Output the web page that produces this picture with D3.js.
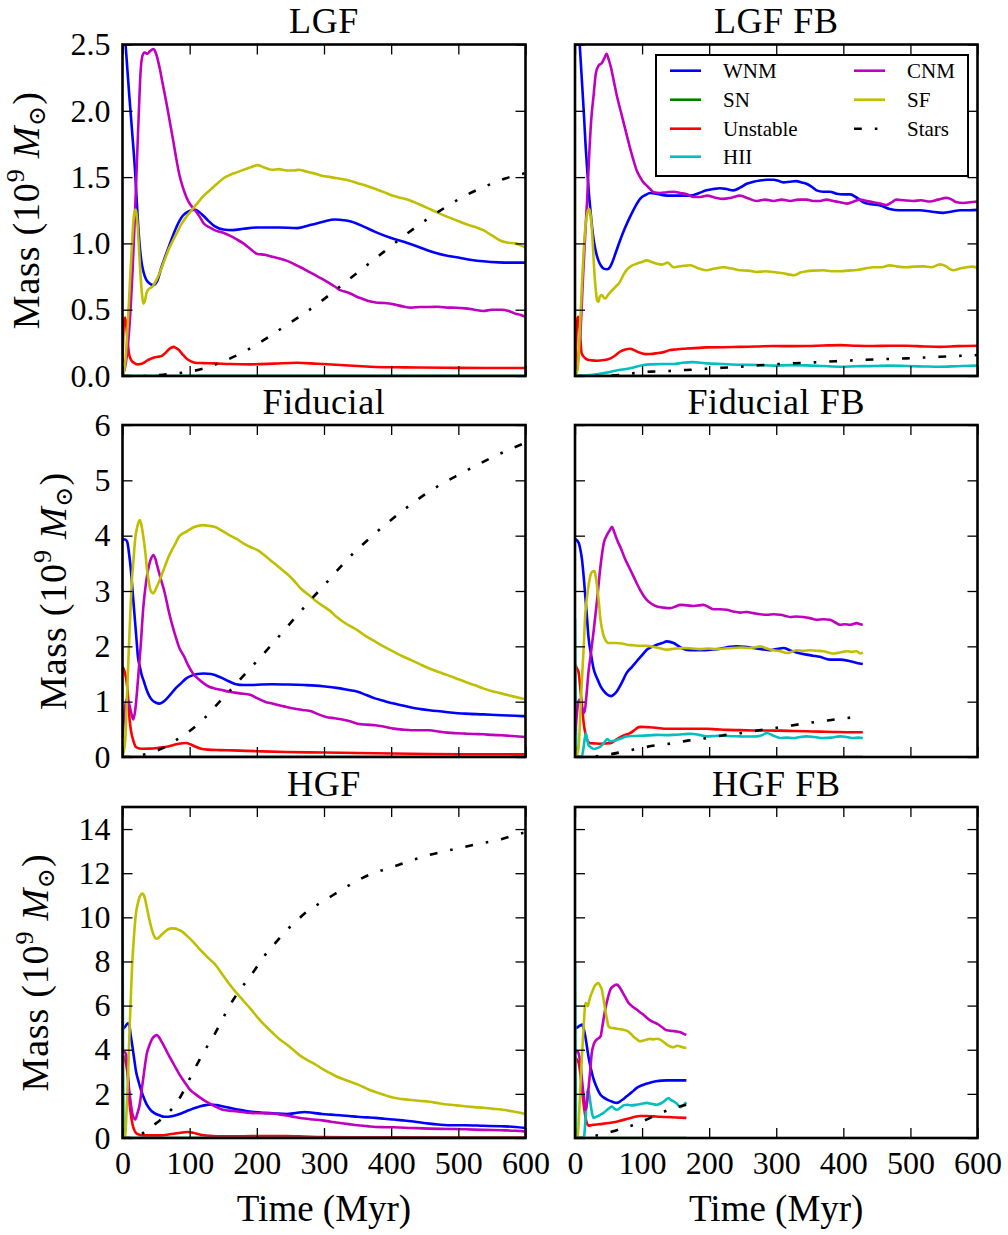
<!DOCTYPE html>
<html>
<head>
<meta charset="utf-8">
<script src="https://cdn.jsdelivr.net/npm/d3@7"></script>
<style>
  html, body { margin: 0; padding: 0; background: #ffffff; }
  svg { display: block; }
</style>
</head>
<body>
<svg id="chart" width="1008" height="1235"></svg>
<script>
// ---- Gas-phase mass histories, [time (Myr), mass (1e9 Msun)] ----

// LGF
const lgfWNM = [[0,2.85],[5,2.47],[10,2.12],[15,1.8],[19,1.52],[22,1.25],[25,1.02],[28,0.87],[31,0.79],[35,0.73],[40,0.7],[46,0.685],[52,0.72],[58,0.82],[65,0.92],[73,1.03],[80,1.12],[90,1.21],[100,1.245],[108,1.254],[118,1.22],[128,1.17],[137,1.13],[150,1.105],[164,1.1],[180,1.11],[201,1.12],[233,1.12],[260,1.115],[270,1.125],[281,1.14],[300,1.165],[316,1.18],[330,1.175],[340,1.165],[360,1.125],[377,1.085],[400,1.04],[420,1.01],[440,0.975],[457,0.943],[480,0.91],[500,0.893],[520,0.875],[537,0.865],[560,0.857],[580,0.855],[600,0.855]];
const lgfSN = [[0,0],[600,0]];
const lgfUnstable = [[0,0.1],[2,0.4],[4,0.44],[6,0.36],[8,0.24],[10,0.16],[13,0.12],[17,0.1],[22,0.088],[27,0.09],[32,0.1],[36,0.115],[42,0.13],[47,0.14],[53,0.145],[58,0.15],[63,0.17],[68,0.196],[73,0.215],[76,0.22],[80,0.21],[84,0.196],[90,0.16],[95,0.133],[102,0.11],[108,0.1],[120,0.097],[137,0.095],[160,0.09],[191,0.088],[225,0.093],[260,0.1],[290,0.092],[324,0.083],[350,0.075],[377,0.068],[420,0.065],[480,0.062],[540,0.06],[600,0.06]];
const lgfHII = [[0,0],[600,0]];
const lgfCNM = [[0,0],[5,0.1],[10,0.35],[15,0.8],[18,1.15],[21,1.55],[24,1.95],[27,2.3],[30,2.42],[33,2.44],[37,2.43],[41,2.45],[46,2.465],[50,2.43],[55,2.33],[60,2.2],[65,2.07],[70,1.93],[75,1.79],[80,1.64],[85,1.51],[90,1.42],[95,1.35],[100,1.3],[108,1.25],[115,1.2],[121,1.15],[130,1.12],[137,1.1],[150,1.08],[159,1.06],[170,1.03],[180,1.0],[190,0.96],[201,0.92],[212,0.915],[223,0.9],[235,0.885],[244,0.87],[255,0.845],[265,0.82],[276,0.79],[287,0.76],[298,0.73],[308,0.7],[316,0.675],[324,0.647],[332,0.635],[340,0.62],[348,0.6],[356,0.584],[366,0.565],[377,0.554],[390,0.55],[404,0.54],[417,0.525],[430,0.516],[444,0.52],[457,0.52],[470,0.522],[484,0.516],[497,0.515],[510,0.51],[524,0.5],[537,0.49],[550,0.5],[564,0.5],[575,0.49],[585,0.47],[593,0.46],[600,0.446]];
const lgfSF = [[0,0],[4,0.1],[8,0.4],[11,0.7],[14,0.98],[16,1.15],[18,1.24],[19.5,1.255],[21,1.22],[23,1.1],[25,0.92],[27,0.75],[29,0.62],[31,0.545],[33,0.56],[36,0.63],[40,0.66],[44,0.67],[48,0.7],[52,0.74],[57,0.8],[63,0.88],[70,0.97],[79,1.06],[87,1.14],[95,1.2],[103,1.25],[111,1.3],[121,1.36],[132,1.41],[143,1.46],[153,1.5],[164,1.525],[175,1.545],[183,1.56],[191,1.575],[201,1.59],[210,1.575],[223,1.555],[233,1.56],[244,1.55],[255,1.55],[263,1.555],[271,1.545],[284,1.53],[297,1.51],[310,1.5],[324,1.487],[337,1.475],[350,1.454],[363,1.435],[377,1.41],[390,1.385],[404,1.357],[417,1.34],[430,1.32],[444,1.29],[457,1.26],[470,1.23],[484,1.2],[497,1.175],[510,1.148],[524,1.125],[537,1.1],[550,1.06],[564,1.018],[575,1.005],[585,1.0],[593,0.985],[600,0.968]];
const lgfStars = [[0,0],[30,0],[60,0.01],[90,0.025],[120,0.055],[150,0.11],[180,0.18],[210,0.27],[240,0.37],[270,0.47],[300,0.58],[330,0.7],[360,0.82],[390,0.94],[420,1.06],[450,1.17],[480,1.27],[510,1.36],[540,1.43],[570,1.49],[600,1.53]];

// LGF FB
const lgfFbWNM = [[0,2.95],[4,2.7],[7,2.5],[10,2.25],[13,2.0],[16,1.72],[18,1.57],[21,1.36],[23,1.25],[26,1.1],[28,1.02],[31,0.94],[35,0.87],[39,0.83],[43,0.81],[48,0.805],[52,0.82],[55,0.85],[60,0.92],[67,1.02],[74,1.11],[82,1.2],[90,1.28],[97,1.336],[105,1.365],[112,1.38],[125,1.37],[137,1.36],[155,1.36],[172,1.36],[185,1.38],[196,1.4],[206,1.41],[216,1.416],[226,1.41],[236,1.4],[246,1.42],[256,1.45],[266,1.465],[276,1.474],[286,1.48],[296,1.48],[304,1.47],[311,1.46],[320,1.465],[330,1.47],[338,1.46],[345,1.45],[352,1.43],[360,1.4],[370,1.39],[380,1.39],[390,1.375],[400,1.37],[410,1.37],[420,1.345],[430,1.31],[442,1.295],[455,1.286],[469,1.26],[484,1.25],[500,1.25],[514,1.25],[530,1.24],[549,1.23],[562,1.24],[574,1.25],[588,1.25],[600,1.253]];
const lgfFbSN = [[0,0],[600,0]];
const lgfFbUnstable = [[0,0],[2,0.3],[4,0.44],[5,0.446],[7,0.35],[10,0.17],[14,0.14],[18,0.125],[25,0.118],[33,0.115],[43,0.12],[53,0.133],[60,0.155],[67,0.183],[75,0.2],[82,0.206],[90,0.19],[97,0.175],[105,0.165],[112,0.166],[122,0.172],[132,0.18],[142,0.196],[150,0.2],[160,0.205],[172,0.208],[185,0.212],[196,0.216],[220,0.217],[246,0.22],[270,0.222],[296,0.226],[320,0.225],[345,0.226],[370,0.23],[395,0.233],[420,0.228],[445,0.226],[470,0.228],[494,0.228],[520,0.223],[544,0.22],[570,0.225],[600,0.228]];
const lgfFbHII = [[0,0],[23,0.008],[35,0.015],[52,0.03],[65,0.045],[82,0.058],[102,0.083],[115,0.088],[130,0.09],[147,0.09],[160,0.1],[176,0.105],[187,0.1],[196,0.095],[220,0.09],[246,0.085],[272,0.083],[296,0.078],[320,0.082],[345,0.08],[370,0.075],[395,0.07],[420,0.074],[445,0.075],[470,0.078],[494,0.075],[520,0.072],[544,0.07],[570,0.074],[600,0.078]];
const lgfFbCNM = [[0,0],[4,0.1],[8,0.32],[12,0.75],[15,1.05],[18,1.32],[21,1.65],[24,1.92],[28,2.13],[31,2.28],[35,2.34],[40,2.36],[44,2.4],[47,2.43],[50,2.39],[53,2.34],[58,2.22],[63,2.1],[68,2.0],[73,1.9],[78,1.8],[82,1.72],[87,1.63],[92,1.55],[97,1.5],[102,1.46],[107,1.436],[112,1.41],[117,1.386],[127,1.38],[137,1.386],[147,1.39],[157,1.38],[167,1.37],[177,1.35],[187,1.35],[197,1.36],[209,1.345],[221,1.336],[233,1.345],[246,1.36],[258,1.34],[271,1.32],[283,1.33],[296,1.32],[308,1.33],[321,1.32],[333,1.33],[345,1.33],[355,1.32],[365,1.32],[375,1.33],[385,1.32],[395,1.31],[405,1.3],[415,1.315],[425,1.33],[435,1.32],[445,1.31],[455,1.3],[464,1.29],[472,1.31],[479,1.33],[490,1.325],[504,1.32],[516,1.325],[529,1.316],[541,1.33],[554,1.343],[562,1.33],[569,1.31],[579,1.305],[589,1.31],[600,1.316]];
const lgfFbSF = [[0,0],[4,0.05],[7,0.32],[10,0.65],[13,0.95],[16,1.15],[18,1.22],[21,1.26],[23,1.22],[25,1.12],[27,0.95],[29,0.77],[31,0.65],[33,0.57],[35,0.56],[37,0.6],[40,0.61],[43,0.59],[45,0.584],[49,0.61],[53,0.634],[60,0.67],[67,0.71],[72,0.76],[77,0.8],[84,0.83],[92,0.847],[100,0.86],[107,0.872],[114,0.86],[122,0.847],[130,0.84],[138,0.855],[147,0.82],[160,0.83],[172,0.835],[185,0.81],[196,0.797],[208,0.81],[221,0.82],[234,0.81],[246,0.797],[258,0.795],[271,0.784],[284,0.79],[296,0.784],[310,0.775],[326,0.76],[336,0.78],[345,0.79],[357,0.795],[370,0.797],[382,0.79],[395,0.79],[407,0.795],[420,0.8],[432,0.81],[445,0.82],[457,0.82],[469,0.834],[481,0.825],[494,0.82],[506,0.825],[519,0.827],[531,0.82],[544,0.842],[552,0.83],[558,0.81],[564,0.797],[574,0.81],[584,0.82],[592,0.825],[600,0.815]];
const lgfFbStars = [[0,0],[40,0],[60,0.005],[80,0.015],[100,0.03],[120,0.034],[140,0.038],[165,0.045],[191,0.053],[220,0.062],[246,0.07],[270,0.079],[296,0.088],[320,0.094],[345,0.1],[370,0.107],[395,0.113],[420,0.119],[445,0.125],[470,0.129],[494,0.133],[520,0.139],[544,0.145],[570,0.151],[600,0.158]];

// Fiducial
const fidWNM = [[0,3.93],[4,3.93],[7,3.89],[10,3.65],[12,3.44],[15,3.0],[18,2.55],[21,2.1],[23,1.81],[26,1.62],[28,1.51],[32,1.36],[36,1.21],[40,1.1],[44,1.03],[50,0.98],[55,0.965],[60,0.99],[66,1.055],[72,1.14],[79,1.24],[87,1.33],[95,1.42],[103,1.47],[111,1.5],[121,1.51],[132,1.5],[140,1.47],[148,1.43],[158,1.37],[169,1.315],[180,1.3],[191,1.3],[207,1.31],[223,1.315],[247,1.31],[271,1.3],[298,1.28],[324,1.24],[337,1.21],[350,1.18],[363,1.12],[377,1.055],[390,1.01],[404,0.965],[417,0.93],[430,0.893],[444,0.865],[457,0.844],[484,0.81],[510,0.784],[537,0.77],[564,0.754],[585,0.745],[600,0.736]];
const fidSN = [[0,0],[600,0]];
const fidUnstable = [[0,1.63],[3,1.55],[7,1.27],[9,0.95],[10.7,0.66],[13,0.45],[16,0.3],[20,0.18],[25,0.155],[31,0.15],[40,0.152],[52,0.163],[60,0.175],[68,0.19],[76,0.215],[84,0.24],[95,0.253],[101,0.23],[108,0.19],[117,0.15],[127,0.133],[145,0.125],[164,0.12],[200,0.105],[244,0.09],[300,0.08],[350,0.072],[400,0.063],[457,0.054],[520,0.05],[600,0.048]];
const fidHII = [[0,0],[600,0]];
const fidCNM = [[0,0.35],[3,0.8],[6,1.05],[9,1.0],[12,0.85],[16,0.68],[19,0.85],[23,1.39],[27,2.0],[31,2.71],[35,3.15],[39,3.44],[43,3.6],[46,3.65],[49,3.58],[52,3.44],[57,3.22],[63,2.96],[68,2.68],[73.5,2.41],[79,2.18],[84,1.99],[92,1.81],[98,1.65],[105,1.51],[113,1.41],[121,1.33],[129,1.27],[137,1.24],[148,1.21],[159,1.18],[175,1.15],[191,1.12],[201,1.06],[212,1.0],[223,0.965],[233,0.935],[244,0.905],[255,0.875],[268,0.85],[281,0.826],[292,0.77],[303,0.724],[316,0.7],[329,0.675],[340,0.64],[350,0.6],[363,0.585],[377,0.573],[390,0.545],[404,0.513],[417,0.495],[430,0.483],[444,0.483],[457,0.483],[470,0.46],[484,0.44],[497,0.43],[510,0.422],[524,0.415],[537,0.41],[550,0.4],[564,0.392],[580,0.38],[600,0.362]];
const fidSF = [[0,0],[4,0.3],[7,1.2],[9.6,2.0],[12,2.7],[14,3.2],[16,3.5],[19,3.95],[22,4.16],[25.6,4.28],[28,4.2],[31,3.98],[34,3.7],[36,3.44],[39,3.18],[41.5,3.02],[44,2.97],[46,2.96],[49,3.02],[52,3.1],[57,3.25],[63,3.44],[68,3.6],[73.5,3.74],[79,3.86],[84,3.98],[90,4.04],[95,4.07],[101,4.12],[108,4.16],[119,4.19],[128,4.18],[137,4.16],[148,4.09],[159,4.01],[170,3.94],[180,3.86],[191,3.79],[201,3.74],[212,3.64],[223,3.53],[233,3.43],[244,3.32],[255,3.19],[265,3.05],[276,2.94],[287,2.83],[297,2.74],[308,2.65],[318,2.54],[329,2.44],[340,2.36],[350,2.29],[363,2.18],[377,2.08],[390,1.99],[404,1.9],[417,1.82],[430,1.75],[444,1.67],[457,1.6],[470,1.54],[484,1.48],[497,1.42],[510,1.36],[524,1.3],[537,1.24],[550,1.19],[564,1.15],[580,1.1],[600,1.04]];
const fidStars = [[0,0],[20,0],[31,0.04],[45,0.09],[60,0.16],[79,0.3],[100,0.47],[121,0.69],[137,0.9],[160,1.2],[190,1.6],[220,2.0],[250,2.42],[281,2.85],[300,3.1],[337,3.6],[377,4.05],[417,4.45],[457,4.8],[505,5.13],[553,5.43],[600,5.68]];

// Fiducial FB
const fidFbWNM = [[0,3.94],[5.5,3.87],[8,3.75],[10.4,3.57],[13,3.25],[15.4,2.9],[18,2.5],[20,2.18],[24,1.85],[28,1.58],[33,1.42],[38,1.28],[43,1.19],[48,1.13],[54,1.1],[58,1.13],[62.5,1.19],[70,1.35],[77,1.52],[85,1.63],[92,1.73],[100,1.84],[107,1.94],[115,1.99],[122,2.03],[130,2.06],[137,2.09],[147,2.06],[155,2.0],[162,1.95],[172,1.93],[182,1.93],[192,1.93],[202,1.94],[212,1.95],[221,1.97],[231,1.99],[241,2.0],[253,1.99],[266,1.97],[278,1.95],[291,1.93],[300,1.95],[311,1.97],[320,1.93],[330,1.89],[345,1.85],[355,1.83],[365,1.81],[380,1.76],[395,1.76],[410,1.73],[420,1.7],[429,1.68]];
const fidFbSN = [[0,0],[429,0]];
const fidFbUnstable = [[0,1.67],[3,1.6],[5.5,1.52],[9,1.1],[11,0.85],[13,0.61],[15.5,0.42],[18,0.31],[23,0.25],[30,0.245],[38,0.24],[45,0.245],[52.6,0.25],[60,0.3],[67.5,0.36],[75,0.4],[82,0.43],[88,0.48],[95,0.54],[100,0.545],[107,0.54],[120,0.53],[137,0.51],[155,0.51],[172,0.51],[196,0.51],[211,0.5],[226,0.49],[246,0.485],[266,0.48],[286,0.478],[306,0.476],[325,0.47],[345,0.464],[365,0.458],[385,0.452],[405,0.448],[429,0.446]];
const fidFbHII = [[0,2.5],[1,1.0],[2,0.2],[4,0],[10,0],[13,0.19],[16,0.43],[18,0.33],[20,0.22],[24,0.17],[28,0.145],[33,0.16],[38,0.19],[43,0.25],[48,0.325],[52.6,0.28],[57,0.29],[62.5,0.31],[70,0.34],[77,0.373],[87,0.38],[97,0.385],[110,0.39],[122,0.4],[135,0.395],[147,0.4],[160,0.41],[172,0.42],[185,0.4],[196.5,0.373],[209,0.38],[221,0.385],[234,0.375],[246,0.373],[258,0.37],[271,0.373],[280,0.4],[286,0.434],[295,0.39],[306,0.343],[315,0.35],[325.5,0.343],[335,0.36],[345,0.373],[357,0.36],[370,0.343],[382,0.35],[395,0.373],[405,0.36],[415,0.343],[422,0.35],[429,0.343]];
const fidFbCNM = [[0,0.4],[3,0.8],[5,1.0],[7,1.04],[10,0.92],[14,0.8],[17,1.1],[20,1.52],[24,1.9],[28,2.3],[33,2.85],[38,3.45],[43,3.87],[48,4.02],[52,4.1],[55,4.16],[58,4.08],[62.5,3.93],[68,3.78],[75,3.57],[81,3.42],[87,3.27],[92,3.14],[97,3.02],[102,2.92],[107,2.84],[114,2.77],[122,2.72],[132,2.7],[142,2.69],[150,2.72],[157,2.75],[167,2.74],[177,2.73],[185,2.74],[191.5,2.75],[199,2.71],[206,2.67],[216,2.67],[226,2.66],[236,2.63],[246,2.61],[256,2.62],[266,2.6],[276,2.58],[286,2.57],[296,2.58],[306,2.57],[314,2.55],[321,2.53],[330,2.54],[340,2.53],[350,2.51],[360,2.48],[370,2.49],[380,2.48],[388,2.43],[395,2.39],[402,2.4],[410,2.39],[420,2.42],[425,2.4],[429,2.39]];
const fidFbSF = [[0,0],[3,0.05],[5.5,0.19],[8,0.8],[10.4,1.4],[13,2.0],[15.4,2.6],[18,2.9],[20,3.08],[23,3.28],[25,3.34],[29,3.36],[31,3.25],[33,3.08],[35.5,2.8],[38,2.48],[40.5,2.3],[43,2.18],[46,2.1],[50,2.06],[56,2.06],[62.5,2.06],[70,2.05],[77,2.03],[87,2.02],[97,2.01],[105,2.01],[112,2.0],[125,1.97],[137,1.94],[150,1.96],[162,1.97],[175,1.96],[187,1.95],[199,1.96],[211,1.95],[223,1.96],[236,1.97],[248,1.98],[261,1.97],[268,1.98],[276,2.0],[286,1.96],[296,1.93],[306,1.91],[316,1.88],[323,1.9],[330,1.93],[340,1.92],[350,1.93],[360,1.92],[370,1.91],[378,1.89],[385,1.87],[395,1.89],[405,1.91],[412,1.9],[420,1.91],[425,1.87],[429,1.89]];
const fidFbStars = [[0,0],[23,0],[35,0.02],[48,0.04],[70,0.09],[97,0.16],[120,0.21],[147,0.25],[170,0.3],[196.5,0.343],[220,0.39],[246,0.43],[270,0.475],[296,0.52],[320,0.565],[345,0.61],[370,0.65],[395,0.69],[415,0.72],[429,0.75]];

// HGF
const hgfWNM = [[0,4.93],[4,5.05],[8,5.2],[10,5.15],[12,4.7],[15,4.1],[18,3.45],[20,3.04],[24,2.55],[28,2.13],[32,1.8],[36,1.52],[41,1.3],[47,1.14],[55,1.03],[63,0.96],[73.5,0.99],[84,1.08],[95,1.21],[105,1.33],[116,1.44],[124,1.49],[132,1.52],[140,1.49],[148,1.44],[164,1.34],[180,1.25],[196,1.18],[212,1.14],[228,1.11],[244,1.09],[258,1.13],[271,1.18],[284,1.14],[297,1.09],[310,1.06],[324,1.03],[337,1.0],[350,0.96],[364,0.935],[377,0.91],[390,0.87],[404,0.835],[417,0.8],[430,0.76],[444,0.7],[457,0.65],[470,0.61],[484,0.58],[510,0.58],[537,0.555],[564,0.53],[585,0.5],[600,0.455]];
const hgfSN = [[0,0],[600,0]];
const hgfUnstable = [[0,3.8],[3,3.6],[7,3.04],[9,2.3],[10.7,1.52],[13,0.95],[15,0.61],[17,0.4],[20,0.23],[25,0.15],[31,0.12],[45,0.12],[57.5,0.12],[70,0.17],[84,0.23],[92,0.26],[97.5,0.27],[105,0.24],[116,0.15],[130,0.1],[148,0.076],[180,0.08],[210,0.09],[244,0.09],[270,0.07],[297,0.045],[350,0.035],[404,0.03],[500,0.025],[600,0.02]];
const hgfHII = [[0,10.0],[0.8,4],[1.6,0.5],[3,0],[600,0]];
const hgfCNM = [[0,3.87],[3,3.9],[5.3,3.8],[7.5,3.1],[9.6,2.28],[12,1.65],[15,1.06],[17,0.9],[19,0.835],[22,1.1],[25.6,1.52],[28,2.05],[31,2.73],[33.5,3.3],[36,3.8],[40,4.2],[44,4.48],[47,4.6],[51,4.66],[54,4.58],[57.5,4.4],[63,4.1],[68,3.8],[73.5,3.5],[79,3.19],[84,2.92],[89.5,2.66],[95,2.42],[100,2.2],[108,2.0],[116,1.82],[124,1.66],[132,1.52],[140,1.4],[148,1.29],[159,1.24],[169,1.21],[180,1.17],[191,1.14],[207,1.12],[223,1.11],[233,1.07],[244,1.02],[257,0.95],[271,0.88],[284,0.84],[297,0.8],[310,0.74],[324,0.68],[337,0.63],[350,0.58],[364,0.54],[377,0.5],[390,0.49],[404,0.486],[430,0.455],[457,0.425],[484,0.41],[510,0.395],[537,0.37],[564,0.35],[585,0.33],[600,0.3]];
const hgfSF = [[0,0],[4,0.1],[6,1.2],[8.5,3.04],[11,5.3],[14,7.6],[17,9.1],[20,10.17],[23,10.65],[25.6,10.93],[30,11.08],[33,10.9],[36,10.48],[40,9.9],[44,9.41],[48,9.1],[51,9.03],[54,9.08],[57.5,9.19],[63,9.35],[68,9.46],[73.5,9.5],[79,9.49],[84,9.43],[89.5,9.34],[97,9.13],[105.5,8.88],[113,8.62],[121.5,8.35],[129,8.12],[137,7.9],[148,7.44],[159,6.98],[169,6.6],[180,6.22],[191,5.84],[201,5.47],[212,5.1],[223,4.78],[233,4.5],[244,4.25],[255,3.98],[265,3.72],[276,3.52],[287,3.34],[297,3.14],[308,2.96],[318,2.8],[329,2.66],[340,2.54],[350,2.43],[358,2.32],[366.5,2.2],[377,2.08],[388,1.97],[396,1.89],[404,1.82],[417,1.76],[430,1.72],[444,1.68],[457,1.64],[470,1.58],[484,1.52],[497,1.48],[510,1.44],[524,1.4],[537,1.37],[550,1.33],[564,1.29],[580,1.21],[592,1.14],[600,1.09]];
const hgfStars = [[0,0],[20,0],[25,0.1],[31,0.23],[39,0.4],[47,0.6],[55,0.78],[63,0.99],[73,1.3],[84,1.75],[97,2.5],[111,3.34],[124,4.05],[137,4.7],[150,5.45],[164,6.22],[177,6.8],[191,7.36],[201,7.8],[212,8.28],[228,8.85],[244,9.41],[258,9.8],[271,10.17],[284,10.45],[297,10.7],[313,11.0],[329,11.3],[345,11.58],[361,11.84],[383,12.1],[404,12.3],[430,12.58],[457,12.83],[484,13.02],[510,13.2],[537,13.37],[564,13.54],[585,13.74],[600,13.85]];

// HGF FB
const hgfFbWNM = [[0,4.98],[3,5.0],[5.5,5.06],[8,5.1],[10.4,5.14],[13,4.95],[15.4,4.6],[18,4.1],[20,3.7],[24,3.1],[28,2.64],[33,2.25],[38,1.96],[43,1.83],[48,1.74],[55,1.65],[62.5,1.59],[70,1.72],[77,1.89],[85,2.08],[92,2.27],[99,2.38],[106,2.46],[113,2.52],[121,2.57],[129,2.6],[137,2.61],[150,2.61],[166,2.61]];
const hgfFbSN = [[0,0],[166,0]];
const hgfFbUnstable = [[0,3.7],[3,3.55],[5.5,3.4],[8,2.9],[10.4,2.19],[13,1.5],[15.4,0.98],[18,0.65],[20,0.56],[24,0.58],[28,0.6],[35,0.62],[43,0.65],[50,0.68],[57.5,0.71],[67,0.78],[77,0.86],[87,0.94],[97,1.0],[107,1.0],[117,0.98],[127,0.96],[137,0.95],[150,0.93],[166,0.91]];
const hgfFbHII = [[0,8.0],[0.8,3],[1.6,0.5],[3,0],[13,0],[16,1.0],[19,2.19],[21,2.0],[23,1.59],[25.5,1.1],[28,0.91],[33,0.98],[38,1.06],[43,1.15],[48,1.28],[52,1.38],[55,1.43],[59,1.32],[62.5,1.28],[68,1.38],[72,1.48],[77,1.51],[84,1.48],[92,1.51],[99,1.55],[107,1.59],[114,1.55],[122,1.51],[130,1.6],[135,1.72],[139.5,1.81],[143,1.72],[147,1.66],[152,1.55],[157,1.4],[162,1.5],[166,1.62]];
const hgfFbCNM = [[0,3.85],[2,3.9],[4,3.93],[6,3.75],[8,3.4],[10.5,2.6],[13,1.89],[16,1.28],[18,1.6],[20,2.19],[22.5,3.0],[25,3.85],[27.5,4.2],[30,4.38],[34,4.5],[38,4.6],[41,5.1],[45,5.82],[49,6.35],[52.6,6.72],[57,6.88],[62.5,6.95],[66,6.85],[70,6.65],[75,6.38],[80,6.12],[86,5.95],[92,5.82],[97,5.7],[102,5.59],[107,5.45],[112,5.33],[117,5.25],[122,5.18],[130,5.02],[137,4.88],[145,4.85],[152,4.83],[158,4.78],[162,4.72],[166,4.68]];
const hgfFbSF = [[0,0],[4,0.08],[6,1.0],[8,2.34],[10,3.5],[12,4.6],[14,5.6],[15.4,6.12],[17,6.1],[19,5.97],[21,6.2],[23,6.42],[26,6.65],[29,6.87],[32,6.98],[35,7.02],[37.5,6.9],[40,6.72],[42.5,6.3],[45,5.82],[47.5,5.4],[50,5.06],[53,5.0],[57.5,4.98],[65,4.94],[72.5,4.9],[77,4.86],[82,4.76],[87,4.6],[92,4.48],[97,4.38],[102,4.42],[107,4.46],[112,4.49],[117,4.47],[122,4.5],[127,4.46],[132,4.35],[137,4.23],[142,4.15],[147,4.11],[152,4.18],[157,4.15],[162,4.1],[166,4.08]];
const hgfFbStars = [[0,0],[20,0],[28,0.08],[38,0.15],[48,0.23],[60,0.33],[72.5,0.45],[85,0.57],[97,0.71],[110,0.88],[122,1.06],[135,1.22],[147,1.36],[157,1.44],[166,1.51]];

// Axis ticks per row
const xTicks = [0, 100, 200, 300, 400, 500, 600];
const yTicksTop = [0, 0.5, 1.0, 1.5, 2.0, 2.5];
const yTicksMid = [0, 1, 2, 3, 4, 5, 6];
const yTicksBot = [0, 2, 4, 6, 8, 10, 12, 14];

// Phases in plotting order
const phaseNames = ["WNM", "SN", "Unstable", "HII", "CNM", "SF", "Stars"];
const phaseColors = ["#0000ff", "#008000", "#ff0000", "#00bfbf", "#bf00bf", "#bfbf00", "#000000"];

const panels = [
  { title: "LGF",         row: 0, col: 0, series: [lgfWNM, lgfSN, lgfUnstable, lgfHII, lgfCNM, lgfSF, lgfStars] },
  { title: "LGF FB",      row: 0, col: 1, series: [lgfFbWNM, lgfFbSN, lgfFbUnstable, lgfFbHII, lgfFbCNM, lgfFbSF, lgfFbStars] },
  { title: "Fiducial",    row: 1, col: 0, series: [fidWNM, fidSN, fidUnstable, fidHII, fidCNM, fidSF, fidStars] },
  { title: "Fiducial FB", row: 1, col: 1, series: [fidFbWNM, fidFbSN, fidFbUnstable, fidFbHII, fidFbCNM, fidFbSF, fidFbStars] },
  { title: "HGF",         row: 2, col: 0, series: [hgfWNM, hgfSN, hgfUnstable, hgfHII, hgfCNM, hgfSF, hgfStars] },
  { title: "HGF FB",      row: 2, col: 1, series: [hgfFbWNM, hgfFbSN, hgfFbUnstable, hgfFbHII, hgfFbCNM, hgfFbSF, hgfFbStars] }
];

// ---- layout ----
const FONT = "'Liberation Serif', 'DejaVu Serif', serif";
const colBox = [{ x0: 122.5, x1: 525.5 }, { x0: 575, x1: 977.5 }];
const rowBox = [
  { y0: 44.5, y1: 376, max: 2.5, ticks: yTicksTop, fmt: d3.format(".1f"), labelX: 39 },
  { y0: 425,  y1: 757, max: 6,   ticks: yTicksMid, fmt: d3.format("d"),   labelX: 66 },
  { y0: 807,  y1: 1138, max: 15, ticks: yTicksBot, fmt: d3.format("d"),   labelX: 48 }
];
const LW = 2.6;
const STARS_DASH = "7.8 13 2.6 13";
const TICK = 10;

const svg = d3.select("#chart");
svg.append("rect").attr("width", 1008).attr("height", 1235).attr("fill", "#fff");

panels.forEach((p, i) => {
  const c = colBox[p.col], r = rowBox[p.row];
  const x = d3.scaleLinear().domain([0, 600]).range([c.x0, c.x1]);
  const y = d3.scaleLinear().domain([0, r.max]).range([r.y1, r.y0]);

  const g = svg.append("g");
  const clipId = "clip" + i;
  g.append("clipPath").attr("id", clipId)
    .append("rect").attr("x", c.x0).attr("y", r.y0)
    .attr("width", c.x1 - c.x0).attr("height", r.y1 - r.y0);

  const line = d3.line().x(d => x(d[0])).y(d => y(d[1])).curve(d3.curveMonotoneX);
  const lines = g.append("g").attr("clip-path", `url(#${clipId})`);
  p.series.forEach((s, k) => {
    lines.append("path")
      .attr("d", line(s))
      .attr("fill", "none")
      .attr("stroke", phaseColors[k])
      .attr("stroke-width", LW)
      .attr("stroke-linejoin", "round")
      .attr("stroke-dasharray", phaseNames[k] === "Stars" ? STARS_DASH : null);
  });

  // axes with inward ticks on all four sides
  const showX = p.row === 2, showY = p.col === 0;
  const axB = d3.axisBottom(x).tickValues(xTicks).tickSizeInner(-TICK).tickSizeOuter(0).tickPadding(13)
    .tickFormat(showX ? d3.format("d") : () => "");
  const axT = d3.axisTop(x).tickValues(xTicks).tickSizeInner(-TICK).tickSizeOuter(0).tickFormat(() => "");
  const axL = d3.axisLeft(y).tickValues(r.ticks).tickSizeInner(-TICK).tickSizeOuter(0).tickPadding(12)
    .tickFormat(showY ? r.fmt : () => "");
  const axR = d3.axisRight(y).tickValues(r.ticks).tickSizeInner(-TICK).tickSizeOuter(0).tickFormat(() => "");

  const axes = [
    [axB, `translate(0,${r.y1})`], [axT, `translate(0,${r.y0})`],
    [axL, `translate(${c.x0},0)`], [axR, `translate(${c.x1},0)`]
  ];
  axes.forEach(([ax, tr]) => {
    const a = g.append("g").attr("transform", tr).call(ax).attr("font-family", FONT);
    a.select(".domain").remove();
    a.selectAll(".tick line").attr("stroke", "#000").attr("stroke-width", 1.3);
    a.selectAll(".tick text").attr("font-family", FONT).attr("font-size", 32).attr("fill", "#000");
  });

  // frame
  g.append("rect").attr("x", c.x0).attr("y", r.y0)
    .attr("width", c.x1 - c.x0).attr("height", r.y1 - r.y0)
    .attr("fill", "none").attr("stroke", "#000").attr("stroke-width", 2.6);

  // title
  g.append("text").attr("x", (c.x0 + c.x1) / 2).attr("y", r.y0 - 11.5)
    .attr("text-anchor", "middle").attr("font-family", FONT).attr("font-size", 36)
    .attr("letter-spacing", 0.6)
    .text(p.title);

  // y label
  if (showY) {
    const t = g.append("text")
      .attr("transform", `translate(${r.labelX},${(r.y0 + r.y1) / 2}) rotate(-90)`)
      .attr("text-anchor", "middle").attr("font-family", FONT).attr("font-size", 38)
      .attr("letter-spacing", 0.8);
    t.append("tspan").text("Mass (10");
    t.append("tspan").attr("font-size", 26).attr("dy", -15).text("9");
    t.append("tspan").attr("dy", 15).text(" ");
    t.append("tspan").attr("font-style", "italic").text("M");
    t.append("tspan").attr("font-size", 24).attr("dy", 6).text("\u2299");
    t.append("tspan").attr("dy", -6).text(")");
  }
  // x label
  if (showX) {
    g.append("text").attr("x", (c.x0 + c.x1) / 2).attr("y", 1221)
      .attr("text-anchor", "middle").attr("font-family", FONT).attr("font-size", 37)
      .text("Time (Myr)");
  }
});

// ---- legend (LGF FB panel) ----
const legend = svg.append("g");
legend.append("rect").attr("x", 656).attr("y", 55).attr("width", 312).attr("height", 121)
  .attr("fill", "#fff").attr("stroke", "#000").attr("stroke-width", 2);
const legendCols = [
  { lineX: 670, textX: 723, items: [0, 1, 2, 3] },
  { lineX: 854, textX: 907, items: [4, 5, 6] }
];
const legendRowY = [70.7, 99.7, 128.7, 156.7];
legendCols.forEach(col => {
  col.items.forEach((k, j) => {
    const yy = legendRowY[j];
    legend.append("line").attr("x1", col.lineX).attr("x2", col.lineX + 31)
      .attr("y1", yy).attr("y2", yy)
      .attr("stroke", phaseColors[k]).attr("stroke-width", LW)
      .attr("stroke-dasharray", phaseNames[k] === "Stars" ? STARS_DASH : null);
    legend.append("text").attr("x", col.textX).attr("y", yy + 7.5)
      .attr("font-family", FONT).attr("font-size", 21).text(phaseNames[k]);
  });
});
</script>
</body>
</html>
